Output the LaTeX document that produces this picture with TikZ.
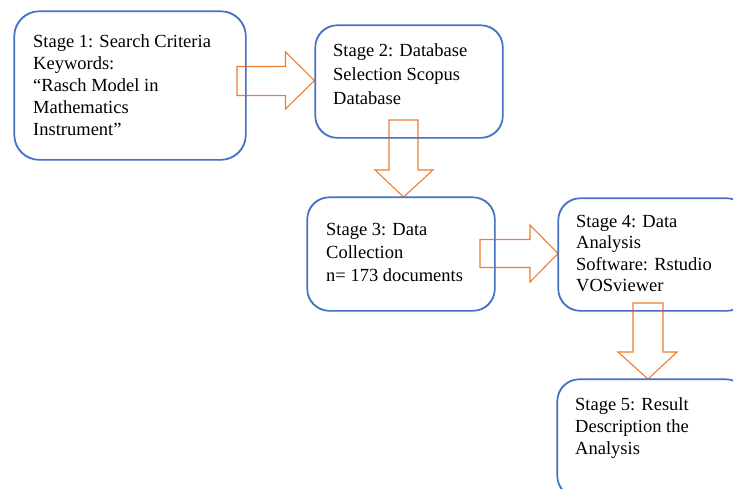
\documentclass[tikz,border=0pt]{standalone}
\usepackage{fontspec}
\setmainfont{Liberation Serif}
\definecolor{boxblue}{HTML}{4472C4}
\definecolor{arrorange}{HTML}{ED7D31}
\begin{document}
\begin{tikzpicture}[x=1pt,y=-1pt,
  stagebox/.style={draw=boxblue, line width=1.1pt, rounded corners=22pt, fill=white, inner sep=0pt, anchor=north west},
  stagetext/.style={anchor=north west, inner sep=0pt, align=left, text=black, font=\fontsize{18.5}{22}\selectfont},
  blockarrow/.style={draw=arrorange, line width=1.1pt, line join=miter}]
\useasboundingbox (0,0) rectangle (733,488);
\clip (0,0) rectangle (733,488);
% boxes
\node[stagebox, rounded corners=25pt, minimum width=231pt, minimum height=148pt] (b1) at (14,11) {};
\node[stagebox, minimum width=187pt, minimum height=112pt] (b2) at (315,25) {};
\node[stagebox, minimum width=187pt, minimum height=113pt] (b3) at (307,197) {};
\node[stagebox, minimum width=190pt, minimum height=112pt] (b4) at (558,198) {};
\node[stagebox, minimum width=190pt, minimum height=118pt] (b5) at (557,379) {};
% texts
\node[stagetext] (t1) at (33,34) {Stage 1: Search Criteria\\Keywords:\\``Rasch Model in\\Mathematics\\Instrument''};
\node[stagetext, font=\fontsize{18.5}{24}\selectfont] (t2) at (333,43) {Stage 2: Database\\Selection Scopus\\Database};
\node[stagetext, font=\fontsize{18.5}{23}\selectfont] (t3) at (326,223) {Stage 3: Data\\Collection\\n= 173 documents};
\node[stagetext, font=\fontsize{18.5}{21.3}\selectfont] (t4) at (576,215) {Stage 4: Data\\Analysis\\Software: Rstudio\\VOSviewer};
\node[stagetext] (t5) at (575,397) {Stage 5: Result\\Description the\\Analysis};
% block arrows
\draw[blockarrow] (237,66.5) -- (285.5,66.5) -- (285.5,52) -- (314.5,80.5) -- (285.5,109) -- (285.5,95.5) -- (237,95.5) -- cycle;
\draw[blockarrow] (389,120) -- (418,120) -- (418,170) -- (433,170) -- (403.5,197) -- (375,170) -- (389,170) -- cycle;
\draw[blockarrow] (480,239.5) -- (530,239.5) -- (530,225) -- (558,253.5) -- (530,282) -- (530,267.5) -- (480,267.5) -- cycle;
\draw[blockarrow] (633,303) -- (663,303) -- (663,352) -- (677,352) -- (648,379) -- (618,352) -- (633,352) -- cycle;
% box borders visible through arrows
\foreach \b/\r in {b1/25pt,b2/22pt,b3/22pt,b4/22pt,b5/22pt}{
  \draw[draw=boxblue, line width=1.1pt, rounded corners=\r] (\b.north west) rectangle (\b.south east);
}
\end{tikzpicture}
\end{document}
